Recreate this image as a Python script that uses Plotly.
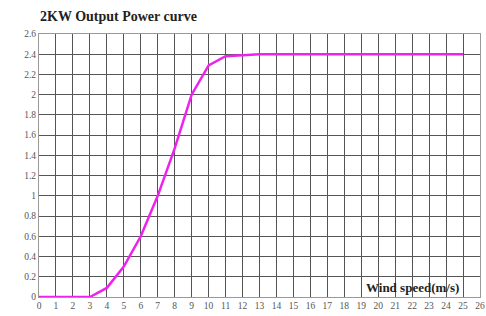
import plotly.graph_objects as go

wind_speed = list(range(0, 26))
power_kw = [0, 0, 0, 0, 0.09, 0.3, 0.6, 1.0, 1.47, 2.0, 2.29, 2.38, 2.39, 2.4, 2.4, 2.4,
            2.4, 2.4, 2.4, 2.4, 2.4, 2.4, 2.4, 2.4, 2.4, 2.4]

x_ticks = list(range(0, 27))
y_ticks = [0, 0.2, 0.4, 0.6, 0.8, 1, 1.2, 1.4, 1.6, 1.8, 2, 2.2, 2.4, 2.6]
y_tick_labels = ["0", "0.2", "0.4", "0.6", "0.8", "1", "1.2", "1.4", "1.6", "1.8", "2", "2.2", "2.4", "2.6"]

fig = go.Figure()
fig.add_trace(go.Scatter(x=wind_speed, y=power_kw, mode="lines",
                         line=dict(color="#ee22ee", width=2.5), showlegend=False))

fig.update_layout(
    width=486, height=316,
    margin=dict(l=39, r=1, t=34, b=19),
    paper_bgcolor="white", plot_bgcolor="white",
    title=dict(text="<b>2KW Output Power curve</b>", x=40/486, xanchor="left",
               y=1-16/316, yanchor="middle",
               font=dict(family="Liberation Serif", size=14, color="#222")),
    font=dict(family="Liberation Serif", size=9, color="#666"),
    annotations=[dict(text="<b>Wind speed(m/s)</b>", x=24.9, y=0.09, xref="x", yref="y",
                      xanchor="right", yanchor="middle", showarrow=False,
                      font=dict(family="Liberation Serif", size=13, color="#222"))],
)
fig.update_xaxes(range=[0, 26], tickvals=x_ticks, ticktext=[str(v) for v in x_ticks],
                 showgrid=True, gridcolor="#555", gridwidth=1.4, zeroline=False,
                 showline=True, linecolor="#999", mirror=True, ticks="",
                 ticklabeloverflow="allow",
                 tickfont=dict(family="Liberation Serif", size=9.5, color="#555"))
fig.update_yaxes(range=[0, 2.6], tickvals=y_ticks, ticktext=y_tick_labels,
                 showgrid=True, gridcolor="#555", gridwidth=1.4, zeroline=False,
                 showline=True, linecolor="#999", mirror=True, ticks="",
                 tickfont=dict(family="Liberation Serif", size=9.5, color="#555"))

fig.write_html("out.html", config={"displayModeBar": False},
               post_script="document.body.style.margin='0';")
